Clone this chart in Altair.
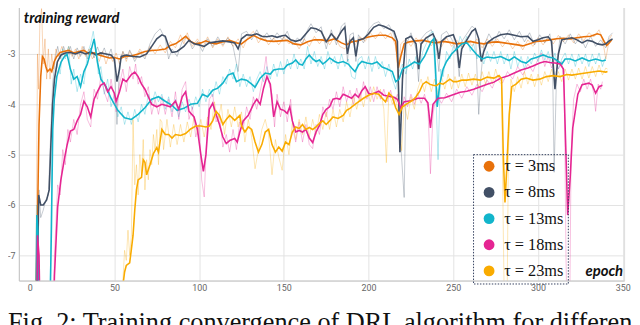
import altair as alt
import pandas as pd

labels = ["τ = 3ms", "τ = 8ms", "τ = 13ms", "τ = 18ms", "τ = 23ms"]
colors = ["#e8710a", "#425066", "#12b5cb", "#e52592", "#f9ab00"]
x_ticks = [0, 50, 100, 150, 200, 250, 300, 350]
y_ticks = [-7, -6, -5, -4, -3, -2]
caption = "Fig. 2: Training convergence of DRL algorithm for different"

# smoothed curves (epoch, reward)
smooth_3 = [(3, -9.0), (4, -7.3), (4.7, -6.1), (5.5, -4.4), (6.5, -3.45), (7.5, -3.05), (8.5, -3.1), (9.5, -3.25),
            (10.5, -3.35), (12, -3.3), (13, -3.35), (14.5, -3.15), (16, -3.05), (18, -2.97), (20, -2.95), (23, -2.93),
            (26, -2.98), (29, -2.95), (32, -2.93), (35, -3.0), (38, -2.98), (41, -3.02), (44, -3.05), (47, -3.08),
            (50, -3.07), (53, -3.1), (56, -3.05), (60, -3.04), (64, -3.0), (68, -2.95), (72, -2.93), (76, -2.92),
            (80, -2.9), (83, -2.83), (86, -2.8), (89, -2.73), (92, -2.65), (95, -2.75), (98, -2.8), (101, -2.78),
            (104, -2.74), (107, -2.78), (110, -2.8), (114, -2.76), (118, -2.73), (122, -2.78), (125, -2.8),
            (128, -2.72), (132, -2.63), (136, -2.7), (140, -2.74), (144, -2.75), (148, -2.74), (152, -2.73),
            (156, -2.8), (160, -2.82), (164, -2.76), (168, -2.72), (172, -2.72), (176, -2.74), (180, -2.7),
            (184, -2.78), (187, -2.82), (190, -2.76), (194, -2.74), (198, -2.68), (202, -2.65), (206, -2.63),
            (210, -2.63), (214, -2.68), (216, -2.75), (217.5, -3.28), (219, -3.05), (221, -2.8), (224, -2.76),
            (228, -2.74), (232, -2.73), (236, -2.76), (240, -2.78), (244, -2.75), (248, -2.77), (252, -2.8),
            (256, -2.78), (260, -2.75), (264, -2.78), (268, -2.8), (272, -2.77), (276, -2.76), (280, -2.78),
            (284, -2.8), (288, -2.82), (291, -2.84), (295, -2.8), (299, -2.75), (303, -2.74), (307, -2.72),
            (311, -2.7), (315, -2.69), (319, -2.7), (323, -2.68), (327, -2.66), (331, -2.65), (335, -2.6),
            (337, -2.62), (339, -2.75), (340.5, -2.83), (342, -2.78), (343.5, -2.72)]

smooth_8 = [(4, -9.0), (4.8, -7.0), (5.3, -5.8), (6.5, -6.0), (8, -6.0), (10, -5.9), (11.5, -5.7), (12.5, -4.8),
            (13.5, -4.0), (14.6, -3.5), (16.3, -3.16), (18.5, -3.02), (21, -2.98), (24, -2.97), (27, -3.0),
            (30, -2.96), (33, -3.0), (36, -2.96), (39, -3.02), (42, -2.98), (45, -3.0), (48, -3.02), (50, -3.1),
            (51.5, -3.55), (53, -3.3), (54, -3.05), (57, -3.02), (61, -3.05), (65, -3.06), (69, -3.0), (72, -2.85),
            (75, -2.7), (78, -2.62), (80, -2.65), (82, -2.85), (84, -2.97), (87, -2.95), (91, -2.85), (94, -2.73),
            (97, -2.8), (100, -2.82), (103, -2.85), (106, -2.78), (110, -2.76), (114, -2.74), (118, -2.76),
            (121, -2.78), (123, -2.9), (125, -2.7), (128, -2.62), (131, -2.63), (134, -2.6), (137, -2.65),
            (140, -2.66), (143, -2.64), (146, -2.67), (149, -2.64), (151, -2.63), (154, -2.72), (157, -2.75),
            (160, -2.72), (163, -2.6), (166, -2.48), (169, -2.5), (172, -2.55), (175, -2.76), (178, -2.6),
            (181, -2.72), (184, -2.55), (186, -2.47), (187.5, -3.0), (189, -2.75), (191, -2.68), (192.5, -3.05),
            (194, -2.72), (197, -2.7), (200, -2.6), (203, -2.47), (206, -2.42), (209, -2.45), (212, -2.5),
            (215, -2.55), (217, -2.75), (218.5, -4.95), (220, -3.5), (222, -2.7), (225, -2.65), (228, -2.8),
            (229.5, -3.3), (231, -2.8), (234, -2.68), (238, -2.6), (240, -2.75), (241.5, -3.1), (243, -2.75),
            (246, -2.66), (250, -2.62), (252, -2.8), (253.5, -3.28), (255, -2.9), (258, -2.72), (261, -2.55),
            (263, -2.5), (265, -2.7), (266.5, -3.15), (268, -2.95), (270, -2.78), (274, -2.68), (278, -2.62),
            (282, -2.6), (286, -2.63), (290, -2.66), (294, -2.65), (297, -2.75), (300, -2.72), (303, -2.68),
            (306, -2.66), (308, -2.75), (310, -3.7), (312, -3.0), (314, -2.72), (317, -2.7), (320, -2.68),
            (323, -2.72), (326, -2.78), (329, -2.73), (332, -2.75), (335, -2.8), (338, -2.82), (340, -2.8),
            (342, -2.74), (344, -2.7)]

smooth_13 = [(3.5, -9.0), (4.2, -6.2), (4.8, -6.5), (5.5, -9.0), (11.5, -9.0), (12.8, -6.5), (13.6, -4.5),
             (14.5, -3.9), (16, -3.45), (18.5, -3.16), (20.5, -3.05), (22, -3.0), (24, -3.3), (26, -3.5),
             (28, -3.45), (30, -3.65), (32, -3.35), (34, -3.2), (36, -2.95), (38, -2.7), (40, -3.16), (42, -3.5),
             (45, -3.65), (48, -3.88), (52, -4.12), (56, -4.27), (60, -4.3), (64, -4.2), (68, -4.07), (72, -3.9),
             (76, -3.85), (80, -3.94), (84, -4.02), (87, -4.12), (91, -4.08), (95, -4.0), (99, -3.98),
             (102, -3.8), (105, -3.85), (108, -3.72), (111, -3.68), (114, -3.58), (117, -3.42), (120, -3.38),
             (122, -3.55), (125, -3.5), (128, -3.52), (131, -3.6), (133, -3.66), (136, -3.48), (139, -3.38),
             (142, -3.4), (144, -3.32), (147, -3.3), (150, -3.3), (152, -3.22), (155, -3.18), (157, -3.12),
             (159, -3.2), (161, -3.22), (163, -3.1), (165, -3.02), (167, -3.1), (169, -3.15), (171, -3.12),
             (173, -3.2), (175, -3.15), (177, -3.08), (180, -3.15), (182, -3.18), (185, -3.15), (188, -3.2),
             (190, -3.28), (192, -3.35), (194, -3.22), (196, -3.15), (199, -3.18), (202, -3.2), (205, -3.16),
             (208, -3.26), (211, -3.3), (214, -3.35), (216, -3.55), (218, -3.5), (220, -3.3), (223, -3.25),
             (227, -3.16), (230, -3.2), (233, -3.05), (235, -2.9), (237, -2.75), (238.5, -2.7), (239.5, -3.3),
             (240.5, -4.05), (242, -3.6), (244, -3.3), (246, -3.15), (249, -3.0), (252, -2.9), (255, -2.8),
             (258, -2.78), (261, -2.9), (264, -3.02), (267, -3.1), (270, -3.06), (274, -3.08), (278, -3.05),
             (281, -3.1), (283, -3.13), (286, -3.06), (290, -3.15), (293, -3.18), (296, -3.1), (299, -3.07),
             (303, -3.02), (306, -3.06), (309, -3.08), (312, -3.15), (314, -3.2), (316, -3.1), (319, -3.1),
             (322, -3.14), (326, -3.08), (330, -3.14), (334, -3.1), (338, -3.14), (340, -3.12)]

smooth_18 = [(4, -9.0), (4.6, -6.6), (5.5, -7.0), (6.5, -9.0), (13.5, -9.0), (14.6, -7.4), (16.5, -6.04),
             (18.4, -5.5), (20.4, -5.1), (22, -4.82), (24, -4.53), (26, -4.5), (28, -4.33), (30, -4.2),
             (32, -3.94), (34, -4.05), (36, -4.25), (38, -3.9), (40, -3.75), (42, -3.62), (44, -3.58), (46, -3.75),
             (48, -3.65), (50, -3.78), (51, -3.94), (53, -3.75), (55, -3.5), (57, -3.55), (60, -3.41), (62, -3.36),
             (64, -3.45), (66, -3.6), (68, -3.7), (70, -3.85), (72, -4.0), (75, -4.05), (78, -4.0), (80, -4.02),
             (83, -4.05), (86, -3.94), (88, -4.1), (90, -3.85), (92, -3.75), (94, -4.14), (97, -4.25), (99, -4.5),
             (101, -5.0), (102.5, -5.33), (104, -5.0), (106, -4.1), (108, -3.98), (110, -4.2), (112, -4.4),
             (114, -4.65), (116, -4.78), (118, -4.72), (121, -4.68), (122.5, -4.75), (124, -4.55), (126, -4.33),
             (129, -4.22), (132, -4.0), (134, -3.9), (136, -4.0), (138, -3.68), (140, -3.45), (142, -3.6),
             (144, -4.25), (146, -3.95), (148, -4.1), (150, -4.12), (152, -4.18), (153.5, -4.05), (155, -4.33),
             (157, -4.55), (159, -4.52), (161, -4.55), (163, -4.5), (165, -4.67), (167, -4.76), (169, -4.55),
             (171, -4.42), (173, -4.2), (175, -4.1), (177, -4.05), (179, -3.9), (181, -3.88), (183, -3.9),
             (185, -3.8), (187, -3.83), (190, -3.88), (192, -3.8), (194, -3.86), (196, -3.73), (198, -3.65),
             (200, -3.78), (202, -3.8), (206, -3.74), (209, -3.82), (212, -3.84), (215, -3.86), (217, -3.9),
             (219, -4.07), (221, -3.95), (225, -3.93), (229, -3.88), (233, -3.88), (235, -3.97), (236.5, -4.47),
             (238, -4.0), (241, -3.88), (245, -3.87), (249, -3.82), (254, -3.76), (258, -3.74), (262, -3.7),
             (266, -3.65), (270, -3.6), (274, -3.56), (278, -3.48), (282, -3.44), (286, -3.38), (290, -3.32),
             (294, -3.28), (297, -3.24), (301, -3.18), (304, -3.15), (307, -3.17), (310, -3.18), (313, -3.2),
             (315, -3.3), (316.5, -5.0), (317.5, -6.2), (319, -5.45), (320.5, -4.47), (323.5, -3.8),
             (326, -3.61), (330, -3.58), (332, -3.62), (334, -3.78), (336, -3.65), (338, -3.62)]

smooth_23 = [(53, -9.0), (55, -7.6), (56, -7.33), (57, -7.2), (59, -7.15), (60, -6.88), (61, -6.6), (62, -6.1),
             (63, -5.7), (64, -5.5), (66, -5.45), (67, -5.1), (68, -5.15), (69, -5.4), (71, -5.2), (73, -4.98),
             (75, -4.86), (76, -4.95), (78, -4.5), (80, -4.6), (82, -4.6), (84, -4.67), (86, -4.6), (89, -4.62),
             (92, -4.58), (95, -4.49), (98, -4.43), (101, -4.43), (104, -4.45), (106, -4.43), (108, -4.33),
             (110, -4.14), (112, -4.22), (114, -4.4), (116, -4.3), (118, -4.22), (121, -4.32), (124, -4.22),
             (125, -4.43), (127, -4.55), (129, -4.45), (131, -4.5), (133, -4.75), (135, -4.95), (137, -4.8),
             (139, -4.55), (141, -4.5), (143, -4.8), (145, -4.95), (147, -4.85), (149, -4.93), (151, -4.75),
             (153, -4.8), (155, -4.55), (157, -4.45), (159, -4.48), (161, -4.4), (163, -4.5), (165, -4.46),
             (167, -4.5), (169, -4.45), (171, -4.38), (173, -4.33), (175, -4.4), (177, -4.33), (179, -4.25),
             (182, -4.28), (185, -4.22), (187, -4.12), (189, -4.08), (192, -4.0), (194, -3.95), (197, -3.88),
             (200, -3.82), (203, -3.78), (206, -3.8), (208, -3.88), (210, -3.95), (212, -3.78), (214, -3.85),
             (216, -4.07), (218, -4.2), (220, -4.05), (223, -3.98), (226, -3.92), (228, -3.85), (230, -3.75),
             (232, -3.6), (234, -3.55), (236, -3.6), (238, -3.62), (240, -3.63), (242, -3.58), (244, -3.6),
             (246, -3.55), (248, -3.5), (250, -3.55), (252, -3.55), (255, -3.52), (258, -3.52), (262, -3.5),
             (266, -3.52), (270, -3.46), (274, -3.48), (277, -3.43), (278.5, -3.5), (279.5, -5.0), (280.5, -5.95),
             (281.5, -5.3), (283, -4.2), (284.5, -3.65), (287, -3.6), (290, -3.5), (293, -3.48), (297, -3.52),
             (301, -3.5), (305, -3.45), (309, -3.43), (313, -3.45), (317, -3.41), (320, -3.42), (324, -3.4),
             (328, -3.38), (332, -3.36), (336, -3.34), (340, -3.36), (341, -3.35)]

# raw (unsmoothed) curves (epoch, reward)
raw_3 = [(3, -9.0), (4, -6.0), (4.6, -3.0), (5.2, -3.7), (6, -2.4), (7, -2.1), (8, -3.2), (9, -2.7), (10, -3.5),
         (11, -2.9), (12, -3.5), (13, -3.0), (14, -3.3), (15.5, -2.9), (17, -3.05), (19, -2.85), (21, -3.05),
         (23, -2.85), (25, -3.05), (27, -2.9), (29, -3.1), (31, -2.85), (33, -3.05), (35, -2.9), (37, -3.1),
         (39, -2.95), (41, -3.15), (43, -2.95), (45, -3.2), (47, -3.0), (49, -3.15), (51, -2.98), (53, -3.2),
         (55, -2.95), (57, -3.15), (59, -2.95), (62, -3.1), (65, -2.9), (68, -3.05), (71, -2.85), (74, -3.0),
         (77, -2.82), (80, -2.98), (83, -2.75), (86, -2.88), (89, -2.62), (91, -2.8), (93, -2.58), (96, -2.85),
         (99, -2.7), (102, -2.88), (105, -2.66), (108, -2.88), (111, -2.7), (114, -2.85), (117, -2.66),
         (120, -2.85), (123, -2.7), (126, -2.88), (129, -2.65), (132, -2.55), (135, -2.78), (138, -2.64),
         (141, -2.82), (144, -2.68), (147, -2.82), (150, -2.66), (153, -2.8), (156, -2.72), (159, -2.9),
         (162, -2.7), (165, -2.85), (168, -2.65), (171, -2.8), (174, -2.66), (177, -2.82), (180, -2.64),
         (183, -2.85), (186, -2.9), (189, -2.7), (192, -2.82), (195, -2.66), (198, -2.75), (201, -2.58),
         (204, -2.7), (207, -2.56), (210, -2.7), (213, -2.58), (216, -2.85), (217.5, -3.45), (219, -2.8),
         (222, -2.7), (225, -2.85), (228, -2.68), (231, -2.82), (234, -2.66), (237, -2.84), (240, -2.7),
         (243, -2.86), (246, -2.68), (249, -2.85), (252, -2.72), (255, -2.86), (258, -2.7), (261, -2.84),
         (264, -2.7), (267, -2.88), (270, -2.7), (273, -2.85), (276, -2.7), (279, -2.86), (282, -2.72),
         (285, -2.9), (288, -2.75), (291, -2.92), (294, -2.72), (297, -2.85), (300, -2.68), (303, -2.82),
         (306, -2.66), (309, -2.8), (312, -2.63), (315, -2.76), (318, -2.62), (321, -2.78), (324, -2.6),
         (327, -2.74), (330, -2.58), (333, -2.66), (336, -2.52), (338, -2.7), (340, -3.1), (342, -2.72),
         (343.5, -2.62)]

raw_8 = [(4, -9.0), (4.8, -6.0), (5.5, -5.7), (6.5, -6.25), (8, -6.1), (9.5, -5.9), (11, -5.8), (12.5, -4.5),
         (13.5, -3.6), (15, -3.1), (16.5, -2.85), (18, -3.1), (20, -2.85), (22, -3.05), (24, -2.85), (26, -3.1),
         (28, -2.88), (30, -3.05), (32, -2.85), (34, -3.1), (36, -2.88), (38, -3.08), (40, -2.86), (42, -3.05),
         (44, -2.88), (46, -3.08), (48, -2.9), (50, -3.2), (51.5, -4.4), (53, -3.2), (55, -2.95), (57, -3.1),
         (59, -2.92), (62, -3.15), (65, -2.95), (68, -3.1), (71, -2.8), (74, -2.6), (77, -2.5), (80, -2.7),
         (82, -3.1), (84, -2.9), (87, -3.05), (90, -2.75), (93, -2.65), (96, -2.9), (99, -2.75), (102, -2.95),
         (105, -2.7), (108, -2.85), (111, -2.66), (114, -2.82), (117, -2.68), (120, -2.85), (123, -3.35),
         (125, -2.6), (128, -2.55), (131, -2.72), (134, -2.52), (137, -2.72), (140, -2.58), (143, -2.74),
         (146, -2.58), (149, -2.72), (152, -2.55), (155, -2.82), (158, -2.68), (161, -2.8), (164, -2.52),
         (166, -2.4), (169, -2.58), (172, -2.46), (175, -2.9), (178, -2.52), (181, -2.82), (184, -2.45),
         (186, -2.38), (187.5, -3.15), (189, -2.62), (191, -2.58), (192.5, -3.15), (194, -2.62), (197, -2.78),
         (200, -2.52), (203, -2.4), (206, -2.36), (209, -2.5), (212, -2.42), (215, -2.62), (217, -2.9),
         (219, -4.8), (221, -5.85), (222.5, -2.8), (225, -2.58), (228, -2.9), (229.5, -3.55), (231, -2.7),
         (234, -2.58), (237, -2.52), (240, -2.85), (241.5, -3.35), (243, -2.62), (246, -2.55), (249, -2.7),
         (252, -2.95), (253.5, -3.45), (255, -2.75), (258, -2.6), (261, -2.45), (263, -2.5), (265, -4.2),
         (266.5, -3.35), (268, -2.85), (271, -2.6), (274, -2.78), (277, -2.55), (280, -2.7), (283, -2.52),
         (286, -2.72), (289, -2.55), (292, -2.76), (295, -2.58), (298, -2.82), (301, -2.62), (304, -2.78),
         (307, -2.6), (308.5, -3.0), (309.5, -5.35), (311, -3.3), (313, -2.65), (316, -2.8), (319, -2.6),
         (322, -2.8), (325, -2.66), (328, -2.88), (331, -2.65), (334, -2.85), (337, -2.72), (340, -2.88),
         (342, -2.65), (344, -2.58)]

raw_13 = [(3.5, -9.0), (4.2, -6.0), (4.8, -6.6), (5.5, -9.0), (11.5, -9.0), (12.8, -6.0), (13.6, -4.0),
          (14.5, -3.6), (16, -3.2), (18, -3.4), (19.5, -2.9), (21, -3.1), (23, -2.85), (24.5, -3.6), (26, -3.3),
          (28, -3.75), (30, -3.4), (32, -3.6), (34, -3.0), (36, -2.8), (37.5, -2.55), (39, -2.9), (40.5, -3.4),
          (42, -3.25), (44, -3.8), (46, -3.5), (48, -4.05), (50, -3.8), (52, -4.25), (54, -4.05), (56, -4.4),
          (58, -4.15), (60, -4.4), (62, -4.1), (64, -4.35), (66, -4.0), (68, -4.2), (70, -3.8), (72, -4.0),
          (74, -3.75), (76, -3.95), (78, -3.8), (80, -4.1), (82, -3.85), (84, -4.15), (86, -3.9), (88, -4.25),
          (90, -3.95), (92, -4.15), (94, -3.9), (96, -4.1), (98, -3.85), (100, -4.05), (102, -3.7), (104, -3.95),
          (106, -3.7), (108, -3.85), (110, -3.55), (112, -3.8), (114, -3.45), (116, -3.6), (118, -3.3),
          (120, -3.5), (122, -3.2), (124, -3.65), (126, -3.4), (128, -3.65), (130, -3.45), (132, -3.75),
          (134, -3.5), (136, -3.35), (138, -3.55), (140, -3.25), (142, -3.5), (144, -3.2), (146, -3.45),
          (148, -3.15), (150, -3.4), (152, -3.1), (154, -3.3), (156, -3.0), (158, -3.3), (160, -3.1),
          (162, -3.3), (164, -2.85), (166, -3.2), (168, -2.95), (170, -3.25), (172, -3.05), (174, -3.3),
          (176, -2.95), (178, -3.2), (180, -3.05), (182, -3.3), (184, -3.0), (186, -3.25), (188, -3.1),
          (190, -3.45), (192, -3.5), (194, -3.1), (196, -3.05), (198, -3.3), (200, -3.05), (202, -3.35),
          (204, -3.05), (206, -3.3), (208, -3.15), (210, -3.45), (212, -3.2), (214, -3.5), (216, -3.7),
          (218, -3.35), (220, -3.2), (222, -3.4), (224, -3.1), (226, -3.3), (228, -3.05), (230, -3.3),
          (232, -2.95), (234, -2.8), (236, -2.6), (238, -2.55), (239.5, -3.6), (241, -5.1), (242.5, -3.3),
          (244, -3.45), (246, -2.95), (248, -3.1), (250, -2.85), (252, -2.95), (254, -2.65), (256, -2.8),
          (258, -2.65), (260, -2.95), (262, -2.8), (264, -3.1), (266, -2.95), (268, -3.2), (270, -2.95),
          (272, -3.15), (274, -2.95), (276, -3.2), (278, -2.95), (280, -3.2), (282, -3.0), (284, -3.3),
          (286, -2.95), (288, -3.25), (290, -3.05), (292, -3.3), (294, -3.05), (296, -3.2), (298, -2.98),
          (300, -3.15), (302, -2.92), (304, -3.12), (306, -2.95), (308, -3.2), (310, -2.98), (312, -3.3),
          (314, -3.1), (316, -2.98), (318, -3.2), (320, -3.0), (322, -3.25), (324, -3.0), (326, -3.2),
          (328, -3.0), (330, -3.25), (332, -3.0), (334, -3.2), (336, -2.98), (338, -3.25), (340, -3.05)]

raw_18 = [(4, -9.0), (4.6, -6.3), (5.5, -7.2), (6.5, -9.0), (13.5, -9.0), (14.6, -7.0), (16.5, -5.6), (18, -5.8),
          (19.5, -4.9), (21, -5.2), (22.5, -4.5), (24, -4.75), (26, -4.3), (28, -4.6), (30, -4.0), (32, -3.75),
          (34, -4.3), (36, -4.45), (38, -3.7), (40, -3.9), (42, -3.45), (44, -3.75), (46, -3.95), (48, -3.5),
          (50, -3.9), (51, -4.15), (53, -3.6), (55, -3.3), (57, -3.75), (59, -3.25), (61, -3.5), (62.5, -3.2),
          (64, -3.6), (66, -3.45), (68, -3.85), (70, -3.65), (72, -4.2), (74, -3.9), (76, -4.2), (78, -3.85),
          (80, -4.2), (82, -3.9), (84, -4.25), (86, -3.75), (88, -4.3), (90, -3.7), (92, -3.55), (94, -4.3),
          (96, -4.05), (98, -4.65), (100, -4.4), (101.5, -5.5), (103, -5.84), (104.5, -4.6), (106, -3.9),
          (108, -3.8), (110, -4.35), (112, -4.2), (114, -4.85), (116, -4.6), (118, -4.95), (120, -4.5),
          (122, -4.9), (124, -4.35), (126, -4.5), (128, -4.05), (130, -4.3), (132, -3.85), (134, -4.1),
          (136, -3.75), (138, -3.4), (139.5, -3.05), (141, -3.55), (143, -3.8), (144.5, -4.45), (146, -3.8),
          (148, -4.25), (150, -3.95), (152, -4.35), (154, -3.9), (155.5, -4.5), (157, -4.75), (159, -4.35),
          (161, -4.75), (163, -4.4), (165, -4.8), (167, -4.88), (169, -4.4), (171, -4.6), (173, -4.05),
          (175, -4.25), (177, -3.9), (179, -4.1), (181, -3.75), (183, -4.05), (185, -3.65), (187, -3.95),
          (189, -3.72), (191, -4.0), (193, -3.68), (195, -3.95), (197, -3.55), (199, -3.9), (201, -3.65),
          (203, -3.95), (205, -3.65), (207, -3.9), (209, -3.7), (211, -3.95), (213, -3.72), (215, -4.0),
          (217, -3.8), (219, -4.2), (221, -3.85), (223, -4.05), (225, -3.8), (227, -4.0), (229, -3.78),
          (231, -3.98), (233, -3.8), (235, -4.05), (236.5, -5.38), (238, -4.2), (240, -3.8), (243, -3.98),
          (246, -3.78), (249, -3.95), (252, -3.7), (255, -3.88), (258, -3.65), (261, -3.82), (264, -3.6),
          (267, -3.75), (270, -3.52), (273, -3.68), (276, -3.42), (279, -3.58), (282, -3.35), (285, -3.5),
          (288, -3.25), (291, -3.42), (294, -3.2), (297, -3.35), (300, -3.1), (302, -2.98), (304, -3.25),
          (306, -3.05), (308, -3.28), (310, -3.1), (312, -3.3), (314, -3.15), (315.5, -3.6), (316.5, -7.0),
          (317.5, -9.0), (318.5, -9.0), (319.5, -5.0), (321, -3.9), (323, -3.6), (325, -3.75), (327, -3.5),
          (329, -3.7), (331, -3.5), (333, -3.8), (334, -4.14), (335.5, -3.6), (337, -3.7), (338, -3.55)]

raw_23 = [(53, -9.0), (55, -7.5), (56, -6.9), (57, -7.1), (58, -6.5), (59, -7.0), (60, -6.6), (61, -4.3),
          (62, -5.6), (63, -5.2), (64, -5.8), (65, -5.0), (66, -5.4), (67, -4.7), (68, -5.7), (69, -5.1),
          (70, -5.5), (71, -4.9), (72, -5.2), (73, -4.6), (74, -4.9), (75, -4.5), (76, -5.2), (77, -4.3),
          (78, -4.35), (79, -4.9), (81, -4.3), (83, -4.85), (85, -4.4), (87, -4.8), (89, -4.4), (91, -4.75),
          (93, -4.35), (95, -4.65), (97, -4.25), (99, -4.6), (101, -4.3), (103, -4.65), (105, -4.25),
          (107, -4.5), (109, -3.95), (111, -4.35), (113, -4.0), (115, -4.6), (117, -4.1), (119, -4.45),
          (121, -4.05), (123, -4.45), (125, -4.15), (127, -4.75), (129, -4.3), (131, -4.65), (133, -5.28),
          (135, -4.9), (137, -4.5), (139, -4.3), (141, -4.6), (143, -5.4), (145, -4.7), (147, -5.05),
          (149, -5.31), (151, -4.6), (153, -5.0), (155, -4.35), (157, -4.7), (159, -4.3), (161, -4.6),
          (163, -4.25), (165, -4.65), (167, -4.3), (169, -4.6), (171, -4.2), (173, -4.5), (175, -4.15),
          (177, -4.5), (179, -4.1), (181, -4.45), (183, -4.1), (185, -4.35), (187, -3.95), (189, -4.25),
          (191, -3.85), (193, -4.1), (195, -3.8), (197, -4.05), (199, -3.7), (201, -3.95), (203, -3.65),
          (205, -3.9), (207, -3.7), (209, -4.1), (210.5, -5.16), (212, -3.75), (214, -4.0), (216, -3.85),
          (218, -4.3), (219.5, -4.92), (221, -4.0), (223, -4.3), (225, -3.85), (227, -4.1), (229, -3.7),
          (231, -3.5), (233, -3.75), (235, -3.45), (237, -3.75), (239, -3.5), (241, -3.8), (243, -3.45),
          (245, -3.7), (247, -3.4), (249, -3.7), (251, -3.45), (253, -3.68), (255, -3.4), (257, -3.65),
          (259, -3.38), (261, -3.62), (263, -3.4), (265, -3.65), (267, -3.35), (269, -3.6), (271, -3.35),
          (273, -3.6), (275, -3.3), (277, -3.55), (278.5, -3.6), (279.5, -6.5), (280.5, -9.0), (281.5, -9.0),
          (282.5, -5.0), (284, -3.5), (286, -3.75), (288, -3.45), (290, -3.68), (292, -3.35), (294, -3.6),
          (296, -3.4), (298, -3.65), (300, -3.4), (302, -3.62), (304, -3.35), (306, -3.55), (308, -3.3),
          (310, -3.55), (312, -3.35), (314, -3.55), (316, -3.3), (318, -3.52), (320, -3.3), (322, -3.5),
          (324, -3.28), (326, -3.5), (328, -3.25), (330, -3.48), (332, -3.25), (334, -3.45), (336, -3.22),
          (338, -3.42), (340, -3.28), (341, -3.3)]

smooth_all = [smooth_3, smooth_8, smooth_13, smooth_18, smooth_23]
raw_all = [raw_3, raw_8, raw_13, raw_18, raw_23]

def to_df(series_list):
    rows = []
    for lab, ser in zip(labels, series_list):
        for e, v in ser:
            rows.append({"epoch": e, "reward": v, "tau": lab})
    return pd.DataFrame(rows)

smooth_df = to_df(smooth_all)
raw_df = to_df(raw_all)
legend_df = pd.DataFrame({"tau": labels, "epoch": [None] * 5, "reward": [None] * 5})

color_scale = alt.Scale(domain=labels, range=colors)
x_enc = alt.X("epoch:Q", scale=alt.Scale(domain=[-6.4, 350.8], nice=False, zero=False),
              axis=alt.Axis(values=x_ticks, title=None, ticks=False, labelPadding=3,
                            labelFontSize=9, labelColor="#666666", labelFont="Roboto",
                            domainColor="#c4c4c4",
                            gridColor={"condition": {"test": "datum.value === 0", "value": "transparent"},
                                       "value": "#e3e3e3"}))
y_enc = alt.Y("reward:Q", scale=alt.Scale(domain=[-7.5, -2.0], nice=False, zero=False),
              axis=alt.Axis(values=y_ticks, title=None, ticks=False, labelPadding=4,
                            labelFontSize=9, labelColor="#666666", labelFont="Roboto",
                            domainColor="#c4c4c4", gridColor="#e3e3e3",
                            labelExpr="datum.value == -2 ? '' : '-' + abs(datum.value)"))

raw_layer = alt.Chart(raw_df).mark_line(clip=True, strokeWidth=1, opacity=0.3).encode(
    x=x_enc, y=y_enc, color=alt.Color("tau:N", scale=color_scale, legend=None))

smooth_layer = alt.Chart(smooth_df).mark_line(clip=True, strokeWidth=1.6).encode(
    x=x_enc, y=y_enc, color=alt.Color("tau:N", scale=color_scale, legend=None))

legend_layer = alt.Chart(legend_df).mark_circle(clip=True).encode(
    x=x_enc, y=y_enc,
    color=alt.Color("tau:N", scale=color_scale,
                    legend=alt.Legend(title=None, orient="none", legendX=460, legendY=152.5,
                                      symbolType="circle", symbolSize=120, symbolOpacity=1,
                                      symbolStrokeWidth=0, symbolOffset=4, labelOffset=7,
                                      labelFont="Liberation Serif", labelFontSize=16.5,
                                      labelColor="#111111", rowPadding=9.5, padding=4)))

note_df = pd.DataFrame({"t": ["training reward"]})
note_layer = alt.Chart(note_df).mark_text(
    align="left", baseline="alphabetic", font="Lato", fontStyle="italic", fontWeight="bold",
    fontSize=15, color="#111111").encode(text="t:N", x=alt.value(5), y=alt.value(20))

epoch_df = pd.DataFrame({"t": ["epoch"]})
epoch_layer = alt.Chart(epoch_df).mark_text(
    align="right", baseline="alphabetic", font="Lato", fontStyle="italic", fontWeight="bold",
    fontSize=15, color="#111111").encode(text="t:N", x=alt.value(612), y=alt.value(276))

cap_df = pd.DataFrame({"t": [caption]})
cap_layer = alt.Chart(cap_df).mark_text(
    align="left", baseline="alphabetic", font="Liberation Serif", fontSize=26.6,
    color="#111111").encode(text="t:N", x=alt.value(-11), y=alt.value(331.5))

chart = alt.layer(raw_layer, smooth_layer, legend_layer, note_layer, epoch_layer, cap_layer).properties(
    width=613, height=280.5,
    autosize=alt.AutoSizeParams(type="none"),
    padding={"left": 11, "top": -6.5, "right": 8, "bottom": 43},
).resolve_legend(color="independent").configure_view(stroke=None).configure(
    background="white").configure_legend(strokeColor="#34405e", strokeDash=[1.5, 1.5])

chart.save("out.html", embed_options={"renderer": "svg", "actions": False})
